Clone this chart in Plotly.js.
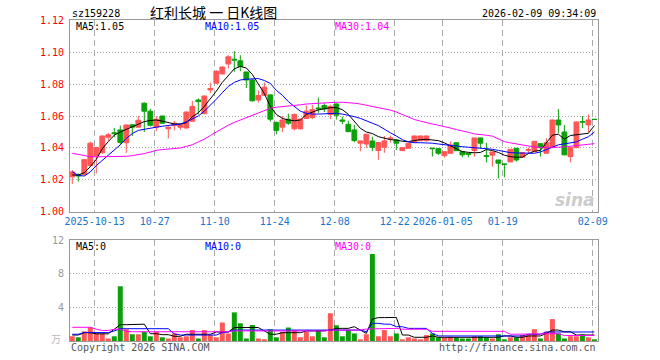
<!DOCTYPE html>
<html>
<head>
<meta charset="utf-8">
<script src="https://cdn.plot.ly/plotly-3.0.1.min.js"></script>
<style>html,body{margin:0;padding:0;background:#fff;}#chart{width:660px;height:360px;}</style>
</head>
<body>
<div id="chart"></div>
<script>
var dates = ["2025-09-29","2025-09-30","2025-10-09","2025-10-10","2025-10-13","2025-10-14","2025-10-15","2025-10-16","2025-10-17","2025-10-20",
"2025-10-21","2025-10-22","2025-10-23","2025-10-24","2025-10-27","2025-10-28","2025-10-29","2025-10-30","2025-10-31","2025-11-03",
"2025-11-04","2025-11-05","2025-11-06","2025-11-07","2025-11-10","2025-11-11","2025-11-12","2025-11-13","2025-11-14","2025-11-17",
"2025-11-18","2025-11-19","2025-11-20","2025-11-21","2025-11-24","2025-11-25","2025-11-26","2025-11-27","2025-11-28","2025-12-01",
"2025-12-02","2025-12-03","2025-12-04","2025-12-05","2025-12-08","2025-12-09","2025-12-10","2025-12-11","2025-12-12","2025-12-15",
"2025-12-16","2025-12-17","2025-12-18","2025-12-19","2025-12-22","2025-12-23","2025-12-24","2025-12-25","2025-12-26","2025-12-29",
"2025-12-30","2025-12-31","2026-01-05","2026-01-06","2026-01-07","2026-01-08","2026-01-09","2026-01-12","2026-01-13","2026-01-14",
"2026-01-15","2026-01-16","2026-01-19","2026-01-20","2026-01-21","2026-01-22","2026-01-23","2026-01-26","2026-01-27","2026-01-28",
"2026-01-29","2026-01-30","2026-02-02","2026-02-03","2026-02-04","2026-02-05","2026-02-06","2026-02-09"];

var openP = [1.022,1.0235,1.0235,1.029,1.035,1.037,1.0467,1.0495,1.0513,1.0433,
1.0545,1.053,1.068,1.063,1.053,1.060,1.052,1.054,1.053,1.0525,
1.0567,1.070,1.0615,1.0763,1.0805,1.0863,1.0925,1.0955,1.0945,1.0875,
1.0825,1.070,1.073,1.0732,1.056,1.053,1.058,1.052,1.052,1.0585,
1.059,1.065,1.0665,1.061,1.0675,1.0575,1.0548,1.0513,1.043,1.0425,
1.0444,1.0384,1.0405,1.0458,1.045,1.0384,1.0398,1.0436,1.0446,1.0446,
1.0399,1.0396,1.0352,1.0367,1.0433,1.0377,1.0367,1.0384,1.0463,1.0352,
1.0355,1.0325,1.030,1.0313,1.0398,1.0342,1.0386,1.0377,1.0427,1.0367,
1.0402,1.0575,1.050,1.0346,1.0402,1.0565,1.0544,1.058];

var highP = [1.0263,1.024,1.033,1.044,1.0405,1.0478,1.0495,1.0525,1.054,1.0546,
1.0548,1.060,1.0685,1.0645,1.060,1.0602,1.0535,1.057,1.055,1.0627,
1.0694,1.071,1.0728,1.0809,1.0885,1.091,1.098,1.1006,1.098,1.0877,
1.083,1.0759,1.081,1.0735,1.0565,1.060,1.0615,1.0615,1.0585,1.0667,
1.067,1.0715,1.068,1.067,1.068,1.0596,1.057,1.0544,1.0446,1.0488,
1.047,1.0436,1.0475,1.0478,1.0455,1.0405,1.0432,1.0477,1.0477,1.0477,
1.0399,1.0397,1.0377,1.044,1.0434,1.0378,1.0368,1.0463,1.0465,1.0433,
1.0376,1.0326,1.030,1.0393,1.0399,1.0372,1.0402,1.0443,1.0428,1.046,
1.0577,1.0644,1.0544,1.0402,1.0564,1.060,1.061,1.0581];

var lowP = [1.0175,1.019,1.0228,1.028,1.024,1.0365,1.0445,1.0467,1.042,1.037,
1.0475,1.0528,1.050,1.0535,1.0505,1.0552,1.046,1.051,1.0513,1.0522,
1.0565,1.061,1.061,1.0742,1.080,1.086,1.0898,1.0877,1.088,1.0775,
1.069,1.0684,1.0728,1.0565,1.0485,1.050,1.0545,1.051,1.0515,1.0583,
1.058,1.062,1.0625,1.058,1.0578,1.0548,1.050,1.0436,1.038,1.040,
1.038,1.0326,1.037,1.0434,1.0388,1.038,1.0398,1.0436,1.0444,1.044,
1.0346,1.0357,1.034,1.0367,1.0383,1.0342,1.0342,1.0346,1.0398,1.031,
1.0283,1.021,1.0217,1.0312,1.0315,1.034,1.0367,1.0376,1.0346,1.0366,
1.040,1.0492,1.0355,1.031,1.040,1.0523,1.050,1.0578];

var closeP = [1.025,1.0225,1.0327,1.043,1.0403,1.0475,1.0483,1.049,1.0435,1.0544,
1.053,1.0573,1.063,1.0542,1.058,1.0555,1.053,1.0555,1.0548,1.0625,
1.066,1.069,1.0725,1.0772,1.088,1.0906,1.097,1.095,1.091,1.0825,
1.0695,1.0728,1.078,1.058,1.051,1.0575,1.0555,1.061,1.058,1.063,
1.064,1.0645,1.0645,1.066,1.0605,1.0568,1.0502,1.0446,1.0444,1.0486,
1.0404,1.0434,1.0444,1.0462,1.043,1.0402,1.043,1.0475,1.0475,1.0475,
1.0396,1.0367,1.0377,1.0419,1.0383,1.0357,1.036,1.0463,1.043,1.0348,
1.0375,1.0305,1.0298,1.0392,1.0325,1.037,1.0389,1.0442,1.0402,1.0433,
1.0575,1.0544,1.0357,1.0402,1.0563,1.0562,1.0575,1.0578];

var ma5 = [1.0231,1.0231,1.0245,1.0283,1.0329,1.0395,1.0440,1.0480,1.0500,1.0517,
1.0533,1.0550,1.0565,1.0572,1.0575,1.0568,1.0558,1.0550,1.0550,1.0558,
1.0595,1.0620,1.0660,1.0705,1.0755,1.0810,1.0850,1.0895,1.0910,1.0900,
1.0860,1.0800,1.0740,1.0660,1.0610,1.0585,1.0575,1.0570,1.0575,1.0610,
1.0625,1.0638,1.0645,1.0652,1.0652,1.0640,1.0610,1.0565,1.0523,1.0500,
1.0490,1.0471,1.0460,1.0452,1.0450,1.0442,1.0440,1.0448,1.0452,1.0454,
1.0452,1.0446,1.0432,1.0415,1.0395,1.0377,1.0373,1.0370,1.0372,1.0390,
1.0384,1.0372,1.0355,1.0346,1.0342,1.0343,1.0365,1.0380,1.0385,1.0430,
1.0480,1.0486,1.0455,1.0478,1.0482,1.0488,1.0492,1.0540];

var ma10 = [1.0252,1.0228,1.0225,1.0250,1.0290,1.0323,1.0360,1.0390,1.0420,1.0460,
1.0490,1.0510,1.0518,1.0524,1.0530,1.0536,1.0540,1.0545,1.0550,1.0563,
1.0582,1.0600,1.0630,1.0665,1.0705,1.0745,1.0785,1.0810,1.0825,1.0830,
1.0832,1.0834,1.0822,1.0804,1.0760,1.0730,1.0690,1.0660,1.0630,1.0617,
1.0612,1.0612,1.0615,1.0617,1.0617,1.0612,1.0606,1.0596,1.0585,1.0572,
1.0555,1.0540,1.0515,1.0495,1.0475,1.0452,1.0438,1.0433,1.0433,1.0433,
1.0430,1.0425,1.0420,1.0417,1.0413,1.0408,1.0405,1.0402,1.0398,1.0395,
1.0392,1.0385,1.0377,1.0371,1.0369,1.0368,1.0367,1.0367,1.0375,1.0388,
1.0405,1.0420,1.0425,1.0430,1.0438,1.0455,1.0470,1.0500];

var ma30 = [1.0367,1.0360,1.0352,1.0346,1.0345,1.0345,1.0345,1.0346,1.0347,1.0348,
1.0352,1.0358,1.0365,1.0375,1.0385,1.0390,1.0394,1.0396,1.0400,1.0410,
1.0420,1.0438,1.0455,1.0478,1.0500,1.0522,1.0543,1.0560,1.0575,1.0587,
1.0605,1.0622,1.0635,1.0648,1.0655,1.0658,1.0662,1.0666,1.0670,1.0675,
1.0678,1.0680,1.0683,1.0685,1.0686,1.0686,1.0685,1.0680,1.0675,1.0668,
1.0660,1.0654,1.0645,1.0637,1.0625,1.0610,1.0592,1.0578,1.0568,1.0557,
1.0550,1.0542,1.0535,1.0525,1.0515,1.0508,1.0498,1.0488,1.0485,1.0480,
1.0474,1.0455,1.0440,1.0432,1.0425,1.0420,1.0412,1.0406,1.0404,1.0403,
1.0404,1.0405,1.0407,1.0410,1.0413,1.0418,1.0423,1.0427];

var volume = [0.56,0.44,1.15,1.63,0.9,0.9,0.3,0.56,6.5,1.4,
0.8,0.8,1.1,0.56,1.1,0.44,0.3,0.9,0.44,0.56,
1.3,0.3,1.3,0.7,0.44,2.2,0.9,3.4,2.1,0.3,
1.9,0.3,0.2,1.4,0.44,1.1,1.6,1.3,0.44,1.1,
0.56,1.3,0.44,3.3,1.87,0.56,1.3,0.9,0.2,0.8,
10.35,0.56,1.3,0.56,0.9,0.2,0.44,0.3,0.2,0.7,
0.9,0.44,0.44,0.5,0.44,0.3,0.3,0.56,0.56,0.44,
0.3,0.8,0.2,0.44,0.44,0.7,0.8,1.4,0.3,1.1,
2.6,0.9,0.3,0.56,0.56,0.8,0.44,0.2];

var volMa5 = [0.71,0.71,0.99,0.99,0.85,0.85,0.85,1.4,1.94,1.94,
1.94,1.97,2.0,0.87,0.87,0.75,0.75,0.56,0.56,0.8,
0.8,0.8,0.8,0.8,1.07,1.07,1.07,1.6,1.6,1.6,
1.6,1.6,1.2,0.8,0.8,0.99,0.99,0.99,0.99,1.2,
1.2,1.2,1.2,1.3,1.5,1.5,1.5,1.7,1.3,0.9,
2.6,2.78,2.78,2.8,2.8,0.71,0.71,0.44,0.44,0.44,
0.6,0.44,0.44,0.44,0.44,0.44,0.44,0.44,0.44,0.44,
0.44,0.44,0.6,0.6,0.44,0.44,0.6,0.6,0.6,0.9,
1.3,1.3,1.1,1.1,0.71,0.71,0.71,0.71];

var volMa10 = [0.8,0.8,1.0,1.0,1.0,1.0,1.0,1.2,1.46,1.46,
1.46,1.46,1.46,1.46,1.46,1.46,1.46,0.85,0.71,0.71,
0.71,0.71,0.71,0.71,0.71,1.0,1.1,1.3,1.3,1.3,
1.3,1.3,1.3,1.3,1.3,1.3,1.3,1.3,1.3,1.3,
1.3,1.3,1.3,1.25,1.3,1.3,1.3,1.3,1.3,1.1,
2.1,2.1,2.0,2.0,1.7,1.7,1.5,1.5,1.5,1.5,
0.9,0.6,0.6,0.6,0.6,0.6,0.6,0.6,0.6,0.6,
0.6,0.6,0.6,0.6,0.6,0.6,0.8,0.8,0.8,1.07,
1.07,1.07,1.07,1.07,1.07,1.07,1.07,1.07];

var volMa30 = [1.63,1.63,1.63,1.63,1.4,1.25,1.25,1.4,1.4,1.15,
1.1,1.1,1.1,1.1,1.1,1.1,1.1,1.1,1.1,1.1,
1.1,1.1,1.1,1.1,1.1,1.1,1.1,1.2,1.2,1.2,
1.2,1.2,1.2,1.2,1.2,1.2,1.2,1.2,1.2,1.2,
1.2,1.2,1.2,1.3,1.3,1.3,1.3,1.3,1.3,1.42,
1.42,1.42,1.42,1.42,1.5,1.4,1.4,1.4,1.4,1.4,
1.15,1.15,1.15,1.15,1.15,1.15,1.15,1.15,1.15,1.15,
1.15,1.15,1.15,0.8,0.8,0.8,0.87,0.87,0.87,0.87,
0.87,0.87,0.65,0.65,0.65,0.65,0.65,0.65];

var tickDates = ["2025-10-13","2025-10-27","2025-11-10","2025-11-24","2025-12-08","2025-12-22","2026-01-05","2026-01-19","2026-02-09"];
var tickLabels = ["2025-10-13","10-27","11-10","11-24","12-08","12-22","2026-01-05","01-19","02-09"];
var priceTicks = [1.00,1.02,1.04,1.06,1.08,1.10,1.12];
var priceTickLabels = ["1.00","1.02","1.04","1.06","1.08","1.10","1.12"];
var volTicks = [4,8,12];
var volTickLabels = ["4","8","12"];

var RED = '#ff5656', GREEN = '#0aa00a';
var MONO = '"DejaVu Sans Mono", "Liberation Mono", monospace';
var idx = dates.map(function(d,i){return i;});
var tickIdx = tickDates.map(function(d){return dates.indexOf(d) - 0.27;});
var volColors = closeP.map(function(c,i){return c >= openP[i] ? RED : GREEN;});

var traces = [
  {type:'candlestick', x:idx, open:openP, high:highP, low:lowP, close:closeP, xaxis:'x', yaxis:'y',
   increasing:{line:{color:RED,width:1}, fillcolor:RED},
   decreasing:{line:{color:GREEN,width:1}, fillcolor:GREEN},
   whiskerwidth:0, hoverinfo:'skip'},
  {type:'scatter', mode:'lines', x:idx, y:ma5, line:{color:'#000000',width:1}, xaxis:'x', yaxis:'y', hoverinfo:'skip'},
  {type:'scatter', mode:'lines', x:idx, y:ma10, line:{color:'#0000ff',width:1}, xaxis:'x', yaxis:'y', hoverinfo:'skip'},
  {type:'scatter', mode:'lines', x:idx, y:ma30, line:{color:'#ff00ff',width:1}, xaxis:'x', yaxis:'y', hoverinfo:'skip'},
  {type:'bar', x:idx, y:volume, marker:{color:volColors, line:{width:0}}, xaxis:'x2', yaxis:'y2', hoverinfo:'skip'},
  {type:'scatter', mode:'lines', x:idx, y:volMa5, line:{color:'#000000',width:1}, xaxis:'x2', yaxis:'y2', hoverinfo:'skip'},
  {type:'scatter', mode:'lines', x:idx, y:volMa10, line:{color:'#0000ff',width:1}, xaxis:'x2', yaxis:'y2', hoverinfo:'skip'},
  {type:'scatter', mode:'lines', x:idx, y:volMa30, line:{color:'#ff00ff',width:1}, xaxis:'x2', yaxis:'y2', hoverinfo:'skip'}
];

function ann(text, x, y, xa, color, size, fam){
  return {text:text, x:x, y:y, xref:'paper', yref:'paper', xanchor:xa, yanchor:'middle', showarrow:false,
    font:{family:fam||MONO, size:size||10, color:color||'#000'}};
}
function px(x){return (x-70)/528;}
function py(y){return (341-y)/321;}

var gridCommon = {showgrid:true, gridcolor:'#aaaaaa', gridwidth:1, showline:true, mirror:true, linecolor:'#999999', linewidth:1, zeroline:false, ticks:'', fixedrange:true};

var layout = {
  width:660, height:360, margin:{l:70, r:62, t:20, b:19}, paper_bgcolor:'#ffffff', plot_bgcolor:'#ffffff',
  showlegend:false, boxgap:0.2, boxgroupgap:0, bargap:0.17, hovermode:false,
  xaxis: Object.assign({}, gridCommon, {domain:[0,1], anchor:'y', type:'linear', range:[-0.38,87.6],
    tickmode:'array', tickvals:tickIdx, ticktext:tickLabels, tickangle:0, griddash:'6px,4px',
    tickfont:{family:MONO, size:10, color:'#1874cd'}, rangeslider:{visible:false}}),
  yaxis: Object.assign({}, gridCommon, {domain:[0.4019,1], anchor:'x', range:[1.0,1.12],
    tickmode:'array', tickvals:priceTicks, ticktext:priceTickLabels, griddash:'1px,2px', ticklabelstandoff:3,
    tickfont:{family:MONO, size:10, color:'#ff0000'}}),
  xaxis2: Object.assign({}, gridCommon, {domain:[0,1], anchor:'y2', matches:'x', type:'linear', range:[-0.38,87.6],
    tickmode:'array', tickvals:tickIdx, showticklabels:false, griddash:'6px,4px'}),
  yaxis2: Object.assign({}, gridCommon, {domain:[0,0.3146], anchor:'x2', range:[0,12],
    tickmode:'array', tickvals:volTicks, ticktext:volTickLabels, griddash:'1px,2px', ticklabelstandoff:3,
    tickfont:{family:MONO, size:10, color:'#999999'}}),
  annotations: [
    ann('sz159228', px(70), py(13), 'left', '#000'),
    ann('红利长城 一 日K线图', px(213), py(12), 'center', '#000', 14, '"Noto Sans CJK SC", sans-serif'),
    ann('2026-02-09 09:34:09', px(598), py(13), 'right', '#000'),
    ann('MA5:1.05', px(74), py(26), 'left', '#000000'),
    ann('MA10:1.05', px(203), py(26), 'left', '#0000ff'),
    ann('MA30:1.04', px(333), py(26), 'left', '#ff00ff'),
    ann('MA5:0', px(74), py(246), 'left', '#000000'),
    ann('MA10:0', px(203), py(246), 'left', '#0000ff'),
    ann('MA30:0', px(333), py(246), 'left', '#ff00ff'),
    ann('万', px(63), py(338), 'right', '#bbbbbb', 10, '"Noto Sans CJK SC", sans-serif'),
    ann('Copyright 2026 SINA.COM', px(69), py(347), 'left', '#555555'),
    ann('http://finance.sina.com.cn', px(598), py(347), 'right', '#555555'),
    ann('<b><i>sina</i></b>', px(597), py(200), 'right', '#cccccc', 17, '"DejaVu Sans", sans-serif')
  ]
};

Plotly.newPlot('chart', traces, layout, {staticPlot:true, displayModeBar:false});
</script>
</body>
</html>
